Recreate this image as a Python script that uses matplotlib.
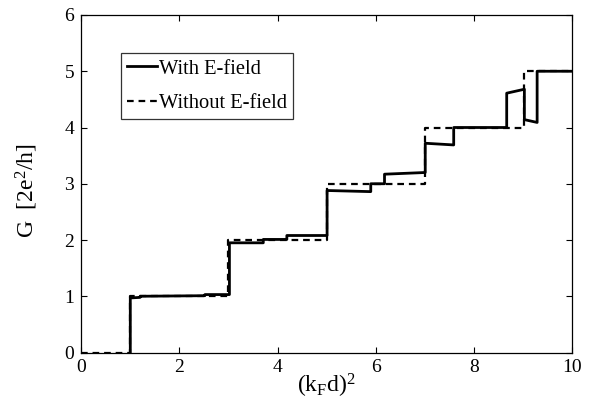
import matplotlib
matplotlib.use("Agg")
import matplotlib.pyplot as plt

plt.rcParams['font.family'] = ['Liberation Serif', 'DejaVu Serif']
plt.rcParams['mathtext.fontset'] = 'custom'
plt.rcParams['mathtext.rm'] = 'Liberation Serif'
plt.rcParams['mathtext.it'] = 'Liberation Serif'

# With E-field (solid) step curve vertices
with_x = [1.0, 1.0, 1.2, 1.2, 2.52, 2.52, 3.02, 3.02, 3.71, 3.71, 4.19, 4.19, 5.01, 5.01, 5.9, 5.9, 6.18, 6.18,
          7.01, 7.01, 7.59, 7.59, 8.67, 8.67, 9.03, 9.03, 9.29, 9.29, 10.0]
with_y = [0.0, 0.97, 0.98, 1.0, 1.01, 1.03, 1.03, 1.95, 1.95, 2.01, 2.01, 2.08, 2.08, 2.88, 2.86, 3.0, 3.0, 3.17,
          3.2, 3.72, 3.69, 4.0, 4.0, 4.61, 4.68, 4.14, 4.09, 5.0, 5.0]

# Without E-field (dashed) ideal steps
without_x = [0, 1, 1, 3, 3, 5, 5, 7, 7, 9.03, 9.03, 10]
without_y = [0, 0, 1, 1, 2, 2, 3, 3, 4, 4, 5, 5]

x_ticks = [0, 2, 4, 6, 8, 10]
y_ticks = [0, 1, 2, 3, 4, 5, 6]

fig = plt.figure(figsize=(5.95, 4.12), dpi=100)
ax = fig.add_axes([0.1365, 0.1444, 0.8248, 0.8192])

ax.plot(with_x, with_y, color='black', lw=2.0, ls='-', label='With E-field')
ax.plot(without_x, without_y, color='black', lw=1.6, ls=(0, (3.0, 2.2)), label='Without E-field')

ax.set_xlim(0, 10)
ax.set_ylim(0, 6)
ax.set_xticks(x_ticks)
ax.set_yticks(y_ticks)
ax.tick_params(direction='in', top=True, right=True, labelsize=14, length=4, width=0.8, pad=5)
for s in ax.spines.values():
    s.set_linewidth(0.9)

ax.set_xlabel(r'(k$_{\rm F}$d)$^2$', fontsize=17, labelpad=-3)
ax.set_ylabel(r'G  [2e$^2$/h]', fontsize=17)
ax.yaxis.set_label_coords(-0.085, 0.48)

leg = ax.legend(loc='upper left', bbox_to_anchor=(0.081, 0.887), fontsize=14.8, handlelength=1.45,
                handletextpad=0.1, borderpad=0.3, labelspacing=0.72, frameon=True, fancybox=False,
                edgecolor='black', borderaxespad=0)
leg.get_frame().set_linewidth(0.9)

fig.savefig('out.png', dpi=100)
